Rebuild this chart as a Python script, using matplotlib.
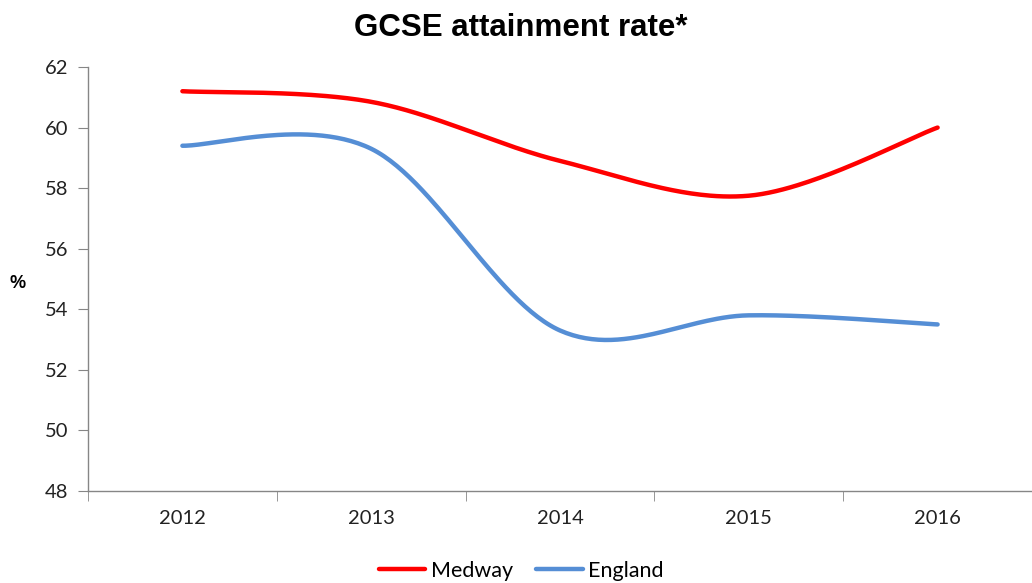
import numpy as np
import matplotlib
matplotlib.use("Agg")
import matplotlib.pyplot as plt
from matplotlib.ticker import FixedLocator

years = ["2012", "2013", "2014", "2015", "2016"]
medway = [61.2, 60.85, 58.9, 57.75, 60.0]
england = [59.4, 59.3, 53.3, 53.8, 53.5]
y_ticks = [48, 50, 52, 54, 56, 58, 60, 62]


def excel_smooth(xs, ys, n=60):
    xs = np.asarray(xs, float)
    ys = np.asarray(ys, float)
    P = np.column_stack([xs, ys])
    m = len(P)
    out = []
    t = np.linspace(0, 1, n)[:, None]
    for i in range(m - 1):
        p0 = P[i - 1] if i > 0 else P[i]
        p1 = P[i]
        p2 = P[i + 1]
        p3 = P[i + 2] if i + 2 < m else P[i + 1]
        b0 = p1
        b1 = p1 + (p2 - p0) / 6.0
        b2 = p2 - (p3 - p1) / 6.0
        b3 = p2
        seg = ((1 - t) ** 3) * b0 + 3 * ((1 - t) ** 2) * t * b1 + 3 * (1 - t) * t ** 2 * b2 + t ** 3 * b3
        out.append(seg if i == 0 else seg[1:])
    out = np.vstack(out)
    return out[:, 0], out[:, 1]


fig = plt.figure(figsize=(10.32, 5.83), dpi=100)
ax = fig.add_axes([88 / 1032, 92 / 583, (1032 - 88) / 1032, (491 - 67) / 583])

x = np.arange(len(years))
gx, gy = excel_smooth(x, medway)
ax.plot(gx, gy, color="#FF0000", lw=3.2, solid_capstyle="round", label="Medway")
ex, ey = excel_smooth(x, england)
ax.plot(ex, ey, color="#558ED5", lw=3.2, solid_capstyle="round", label="England")

ax.set_xlim(-0.5, len(years) - 0.5)
ax.set_ylim(48, 62)
ax.set_yticks(y_ticks)
ax.set_xticks(x)
ax.set_xticklabels(years)
ax.xaxis.set_minor_locator(FixedLocator(np.arange(-0.5, len(years), 1.0)))

gray = "#868686"
for s in ["top", "right"]:
    ax.spines[s].set_visible(False)
for s in ["left", "bottom"]:
    ax.spines[s].set_color(gray)
    ax.spines[s].set_linewidth(1.0)

ax.tick_params(axis="y", which="major", length=7, color=gray, labelsize=14.5, pad=7, labelcolor="#222222")
ax.tick_params(axis="x", which="major", length=0, labelsize=14.5, pad=14, labelcolor="#222222")
ax.tick_params(axis="x", which="minor", length=7, color=gray)
for lab in ax.get_xticklabels() + ax.get_yticklabels():
    lab.set_fontfamily("Lato")

fig.text(18 / 1032, 1 - 283 / 583, "%", fontsize=13, fontweight="bold",
         family="Liberation Sans", ha="center", va="center")
fig.text(0.505, 1 - 36 / 583, "GCSE attainment rate*", fontsize=22.5, fontweight="bold",
         family="Liberation Sans", ha="center", va="baseline")

leg = fig.legend(loc="center", bbox_to_anchor=(0.505, 1 - 571 / 583), ncol=2, frameon=False,
                 handlelength=2.15, handletextpad=0.25, columnspacing=1.1,
                 prop={"family": "Lato", "size": 15.5})

fig.savefig("out.png", dpi=100)
